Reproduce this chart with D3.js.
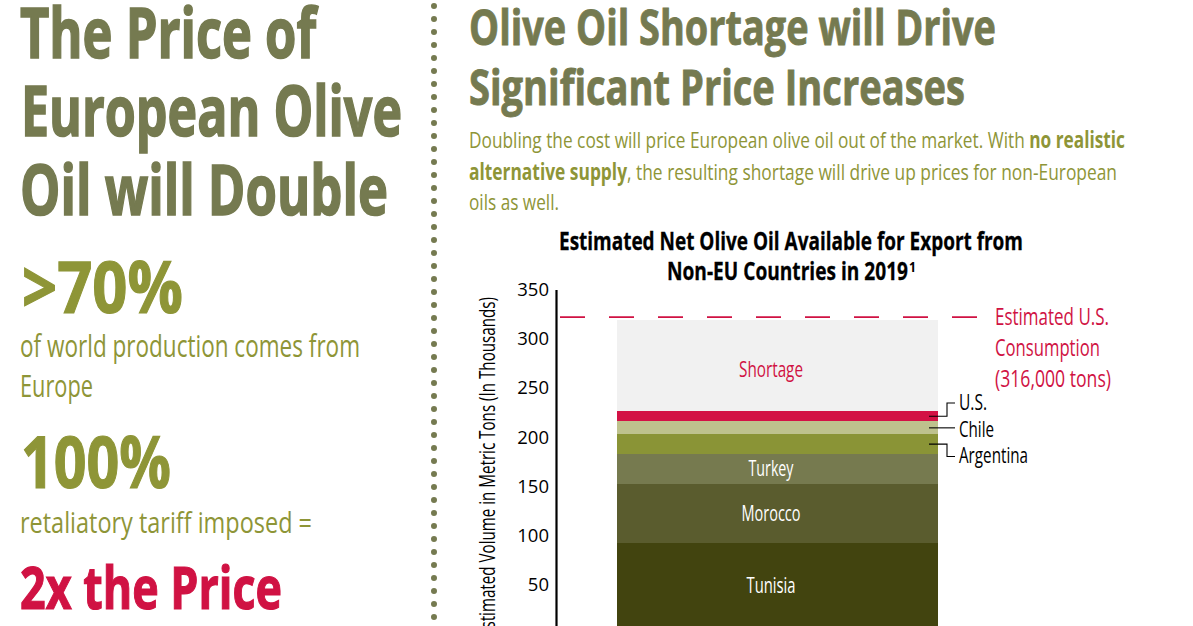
<!DOCTYPE html>
<html>
<head>
<meta charset="utf-8">
<script src="https://cdn.jsdelivr.net/npm/d3@7"></script>
<style>
body { margin: 0; background: #fff; overflow: hidden; }
svg { display: block; }
text { font-family: "Open Sans", sans-serif; }
</style>
</head>
<body>
<svg id="chart" width="1193" height="626"></svg>
<script>
// values, thousands of metric tons
var countries = ["Tunisia", "Morocco", "Turkey", "Argentina", "Chile", "U.S.", "Shortage"];
var volumes = [92, 60, 31, 20, 13, 10.5, 92.5];
var barColors = ["#42440f", "#5a5c2e", "#767a4f", "#8a9436", "#bec28d", "#d31245", "#f1f1f1"];
var yTicks = [50, 100, 150, 200, 250, 300, 350];
var usConsumption = 322;

var olive = "#757a50", green = "#8e9537", crimson = "#d01243";
var svg = d3.select("#chart");

// fit = pixel width of the line in the picture, squeezes the font to the original's width
function line(str, x, y, size, color, fit, bold, heavy) {
	var t = svg.append("text").attr("x", x).attr("y", y)
		.attr("font-size", size).attr("fill", color)
		.attr("font-weight", bold ? "bold" : "normal");
	var parts = Array.isArray(str) ? str : [[str, bold]];
	parts.forEach(function(p) {
		t.append("tspan").attr("font-weight", p[1] ? "bold" : "normal").text(p[0]);
	});
	if (fit) t.attr("textLength", fit).attr("lengthAdjust", "spacingAndGlyphs");
	if (heavy) t.attr("stroke", color).attr("stroke-width", heavy);
	return t;
}

// left column
line("The Price of", 20, 57.5, 69, olive, 296, true, 1.6);
line("European Olive", 21, 136, 69, olive, 381, true, 1.6);
line("Oil will Double", 20, 214.5, 69, olive, 368, true, 1.6);
line(">70%", 22, 313, 71, green, 161, true, 1.2);
line("of world production comes from", 20, 357, 31, green, 340);
line("Europe", 20, 397, 31, green, 73);
line("100%", 21, 488, 71, green, 150, true, 1.2);
line("retaliatory tariff imposed =", 20, 533, 29, green, 292);
line("2x the Price", 20, 609, 59, crimson, 262, true, 1.2);

// dotted divider
svg.append("line").attr("x1", 434).attr("x2", 434).attr("y1", 6).attr("y2", 626)
	.attr("stroke", olive).attr("stroke-width", 6)
	.attr("stroke-linecap", "round").attr("stroke-dasharray", "0 13");

// right column heading
line("Olive Oil Shortage will Drive", 469, 45, 49, olive, 527, true, 0.9);
line("Significant Price Increases", 469, 105, 49, olive, 496, true, 0.9);
line([["Doubling the cost will price European olive oil out of the market. With ", false], ["no realistic", true]], 469, 148, 22.4, green, 656);
line([["alternative supply", true], [", the resulting shortage will drive up prices for non-European", false]], 469, 180, 22.4, green, 648);
line("oils as well.", 469, 210, 22.4, green, 90);

// chart title
line("Estimated Net Olive Oil Available for Export from", 559, 250, 24.8, "#000", 464, true, 0.3);
line("Non-EU Countries in 2019", 667, 280, 24.8, "#000", 241, true, 0.3);
line("1", 909, 272, 15, "#000", 7, true);

// scales, zero sits just below the bottom of the page
var y = d3.scaleLinear().domain([0, 350]).range([634, 289.6]);
var x = d3.scaleBand().domain(["2019"]).range([617, 938]);

var row = {};
countries.forEach(function(c, i) { row[c] = volumes[i]; });
var stacked = d3.stack().keys(countries)([row]);

svg.selectAll("rect.seg")
	.data(stacked)
	.enter().append("rect")
		.attr("class", "seg")
		.attr("x", x("2019"))
		.attr("width", x.bandwidth())
		.attr("y", function(d) { return y(d[0][1]); })
		.attr("height", function(d) { return y(d[0][0]) - y(d[0][1]); })
		.attr("fill", function(d, i) { return barColors[i]; })
		.attr("shape-rendering", "crispEdges");

function mid(name) {
	var s = stacked[countries.indexOf(name)][0];
	return y((s[0] + s[1]) / 2);
}

// labels inside the bar
var inside = [
	{ name: "Tunisia", w: 49, dy: 4 },
	{ name: "Morocco", w: 59, dy: 7.5 },
	{ name: "Turkey", w: 45, dy: 7 },
	{ name: "Shortage", w: 64, dy: 11 }
];
inside.forEach(function(d) {
	line(d.name, 771, mid(d.name) + d.dy, 21.5, d.name == "Shortage" ? crimson : "#fff", d.w)
		.attr("text-anchor", "middle");
});

// axis
var axis = d3.axisLeft(y).tickValues(yTicks).tickSize(0).tickPadding(7);
var gAxis = svg.append("g").attr("transform", "translate(556,0)").call(axis);
gAxis.select(".domain").attr("stroke", "#000").attr("stroke-width", 2.2);
gAxis.selectAll("text").attr("font-family", "'Open Sans', sans-serif")
	.attr("font-size", 18.5).attr("fill", "#000");

svg.append("text")
	.attr("transform", "translate(495,297) rotate(-90)")
	.attr("text-anchor", "end").attr("font-size", 22).attr("fill", "#000")
	.attr("textLength", 340).attr("lengthAdjust", "spacingAndGlyphs")
	.text("Estimated Volume in Metric Tons (In Thousands)");

// U.S. consumption line
svg.append("line").attr("x1", 560).attr("x2", 980)
	.attr("y1", y(usConsumption)).attr("y2", y(usConsumption))
	.attr("stroke", crimson).attr("stroke-width", 1.8).attr("stroke-dasharray", "25 24");

line("Estimated U.S.", 995, 325, 23.4, crimson, 114);
line("Consumption", 995, 356, 23.4, crimson, 105);
line("(316,000 tons)", 995, 387, 23.4, crimson, 116);

// leaders to the thin segments
var leaders = [
	{ name: "U.S.", elbow: 403, base: 410, w: 28 },
	{ name: "Chile", elbow: null, base: 437, w: 35 },
	{ name: "Argentina", elbow: 456.5, base: 463, w: 69 }
];
leaders.forEach(function(d) {
	var m = mid(d.name);
	var path = d.elbow === null
		? "M929," + m + "H955"
		: "M929," + m + "H947V" + d.elbow + "H955";
	svg.append("path").attr("d", path).attr("fill", "none")
		.attr("stroke", "#000").attr("stroke-width", 1.1);
	line(d.name, 959, d.base, 21.5, "#000", d.w);
});
</script>
</body>
</html>
